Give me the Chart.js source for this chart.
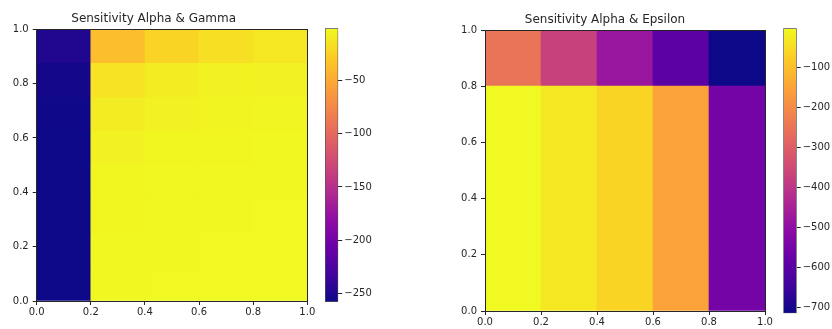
<!DOCTYPE html>
<html>
<head>
<meta charset="utf-8">
<script src="https://cdn.jsdelivr.net/npm/chart.js@4.4.1/dist/chart.umd.min.js"></script>
<style>
  body { margin: 0; background: #fff; }
  #wrap { position: relative; width: 832px; height: 329px; overflow: hidden; }
  canvas { position: absolute; top: 0; }
</style>
</head>
<body>
<div id="wrap">
  <canvas id="gamma-map" width="344" height="329" style="left:0px"></canvas>
  <canvas id="gamma-bar" width="70" height="329" style="left:320px"></canvas>
  <canvas id="eps-map" width="360" height="329" style="left:445px"></canvas>
  <canvas id="eps-bar" width="54" height="329" style="left:778px"></canvas>
</div>
<script>
// cell edges along each axis
const alphaEdges = [0, 0.2, 0.4, 0.6, 0.8, 1.0];
const gammaEdges = [0, 0.125, 0.25, 0.375, 0.5, 0.625, 0.75, 0.875, 1.0];
const epsilonEdges = [0, 0.2, 0.4, 0.6, 0.8, 1.0];

// scores, one row per gamma/epsilon band (bottom band first), one value per alpha band
const gammaScores = [
  [-258, -2, -1, -1, -1],
  [-258, -2, -1.5, -1, -1],
  [-258, -3, -1.5, -1.5, -1],
  [-258, -3, -2, -2, -1.5],
  [-258, -5, -3, -3, -2],
  [-257, -9, -5, -4, -3.5],
  [-254, -15, -9, -5, -5],
  [-248, -37, -23, -16, -11]
];
const epsilonScores = [
  [-1.5, -30, -62, -151, -550],
  [-1.5, -30, -62, -151, -550],
  [-1.5, -30, -62, -151, -550],
  [-1.5, -30, -62, -151, -550],
  [-251, -372, -479, -596, -714]
];

const axisTicks = [0, 0.2, 0.4, 0.6, 0.8, 1.0];
const gammaBarTicks = [-250, -200, -150, -100, -50];
const epsilonBarTicks = [-700, -600, -500, -400, -300, -200, -100];

const INK = "#262626";
const FONT = "'DejaVu Sans', sans-serif";
const plasmaStops = ["#0d0887", "#41049d", "#6a00a8", "#8f0da4", "#b12a90", "#cc4778",
  "#e16462", "#f2844b", "#fca636", "#fcce25", "#f0f921"];

function hexToRgb(hex) {
  let n = parseInt(hex.slice(1), 16);
  return [(n >> 16) & 255, (n >> 8) & 255, n & 255];
}

function plasma(t) {
  t = Math.min(1, Math.max(0, t));
  let pos = t * (plasmaStops.length - 1);
  let i = Math.min(Math.floor(pos), plasmaStops.length - 2);
  let f = pos - i;
  let a = hexToRgb(plasmaStops[i]);
  let b = hexToRgb(plasmaStops[i + 1]);
  let c = a.map((v, k) => Math.round(v + (b[k] - v) * f));
  return `rgb(${c[0]}, ${c[1]}, ${c[2]})`;
}

function minus(v) {
  return v < 0 ? "\u2212" + Math.abs(v) : String(v);
}

class SensitivityPanel {
  constructor(mapId, barId, opts) {
    this.mapCanvas = document.getElementById(mapId);
    this.barCanvas = document.getElementById(barId);
    this.opts = opts;
    let flat = opts.scores.flat();
    this.vmin = Math.min(...flat);
    this.vmax = Math.max(...flat);
  }

  load() {
    this.drawMap();
    this.drawColorbar();
  }

  colorFor(v) {
    return plasma((v - this.vmin) / (this.vmax - this.vmin));
  }

  makeDatasets() {
    let { xEdges, yEdges, scores } = this.opts;
    return scores.map((row, r) => ({
      data: row.map((v, c) => ({
        x: (xEdges[c] + xEdges[c + 1]) / 2,
        y: [yEdges[r], yEdges[r + 1]],
        v: v
      })),
      backgroundColor: (ctx) => (ctx.raw ? this.colorFor(ctx.raw.v) : "transparent"),
      borderWidth: 0,
      grouped: false,
      barPercentage: 1,
      categoryPercentage: 1
    }));
  }

  tickAxis(position, size) {
    let horizontal = position === "bottom";
    return {
      type: "linear",
      position: position,
      min: 0,
      max: 1,
      offset: false,
      grid: { offset: false, drawOnChartArea: false, tickLength: 4, color: INK, lineWidth: 1 },
      border: { color: INK, width: 1, z: 1 },
      ticks: {
        color: INK,
        font: { family: FONT, size: 10 },
        padding: horizontal ? this.opts.xPad : 4,
        maxRotation: 0,
        autoSkip: false,
        callback: (v) => Number(v).toFixed(1)
      },
      afterBuildTicks: (s) => { s.ticks = axisTicks.map((v) => ({ value: v })); },
      afterFit: (s) => { if (horizontal) s.height = size; else s.width = size; }
    };
  }

  frameAxis(position) {
    return {
      type: "linear",
      position: position,
      min: 0,
      max: 1,
      grid: { display: false },
      ticks: { display: false },
      border: { color: INK, width: 1, z: 1 },
      afterFit: (s) => { if (position === "top") s.height = 0; else s.width = 0; }
    };
  }

  drawMap() {
    let o = this.opts;
    new Chart(this.mapCanvas, {
      type: "bar",
      data: { datasets: this.makeDatasets() },
      options: {
        responsive: false,
        animation: false,
        devicePixelRatio: 1,
        events: [],
        layout: { padding: { left: 0, right: o.padRight, top: 0, bottom: 0 } },
        plugins: {
          legend: { display: false },
          tooltip: { enabled: false },
          title: {
            display: true,
            text: o.title,
            color: INK,
            font: { family: FONT, size: 12, weight: "normal" },
            padding: { top: o.titleTop, bottom: o.titleBottom }
          }
        },
        scales: {
          x: this.tickAxis("bottom", o.xHeight),
          y: this.tickAxis("left", o.yWidth),
          x2: this.frameAxis("top"),
          y2: this.frameAxis("right")
        }
      }
    });
  }

  drawColorbar() {
    let o = this.opts;
    let vmin = this.vmin;
    let vmax = this.vmax;
    new Chart(this.barCanvas, {
      type: "bar",
      data: {
        labels: ["score"],
        datasets: [{
          data: [[vmin, vmax]],
          backgroundColor: (ctx) => {
            let chart = ctx.chart;
            if (!chart.chartArea) return null;
            let y = chart.scales.y;
            let g = chart.ctx.createLinearGradient(0, y.getPixelForValue(vmin), 0, y.getPixelForValue(vmax));
            plasmaStops.forEach((c, i) => g.addColorStop(i / (plasmaStops.length - 1), c));
            return g;
          },
          borderColor: "#555",
          borderWidth: 1,
          borderSkipped: false,
          barPercentage: 1,
          categoryPercentage: 1
        }]
      },
      options: {
        responsive: false,
        animation: false,
        devicePixelRatio: 1,
        events: [],
        layout: { padding: { left: o.barLeft, right: 0, top: o.barTop, bottom: o.barBottom } },
        plugins: { legend: { display: false }, tooltip: { enabled: false } },
        scales: {
          x: { display: false },
          y: {
            position: "right",
            min: vmin,
            max: vmax,
            beginAtZero: false,
            grid: { drawOnChartArea: false, tickLength: 4, color: INK },
            border: { display: false },
            ticks: {
              color: INK,
              font: { family: FONT, size: 10 },
              padding: 2,
              autoSkip: false,
              callback: (v) => minus(v)
            },
            afterBuildTicks: (s) => { s.ticks = o.barTicks.map((v) => ({ value: v })); },
            afterFit: (s) => { s.width = o.barAxisWidth; }
          }
        }
      }
    });
  }
}

new SensitivityPanel("gamma-map", "gamma-bar", {
  title: "Sensitivity Alpha & Gamma",
  xEdges: alphaEdges,
  yEdges: gammaEdges,
  scores: gammaScores,
  barTicks: gammaBarTicks,
  padRight: 36.7,
  yWidth: 36.7,
  xHeight: 28,
  xPad: 1,
  titleTop: 11.5,
  titleBottom: 3.4,
  barLeft: 5,
  barTop: 28.3,
  barBottom: 27,
  barAxisWidth: 51.7
}).load();

new SensitivityPanel("eps-map", "eps-bar", {
  title: "Sensitivity Alpha & Epsilon",
  xEdges: alphaEdges,
  yEdges: epsilonEdges,
  scores: epsilonScores,
  barTicks: epsilonBarTicks,
  padRight: 40,
  yWidth: 40,
  xHeight: 18,
  xPad: 1,
  titleTop: 12.2,
  titleBottom: 3.4,
  barLeft: 5.3,
  barTop: 28.3,
  barBottom: 15.7,
  barAxisWidth: 35.3
}).load();
</script>
</body>
</html>
